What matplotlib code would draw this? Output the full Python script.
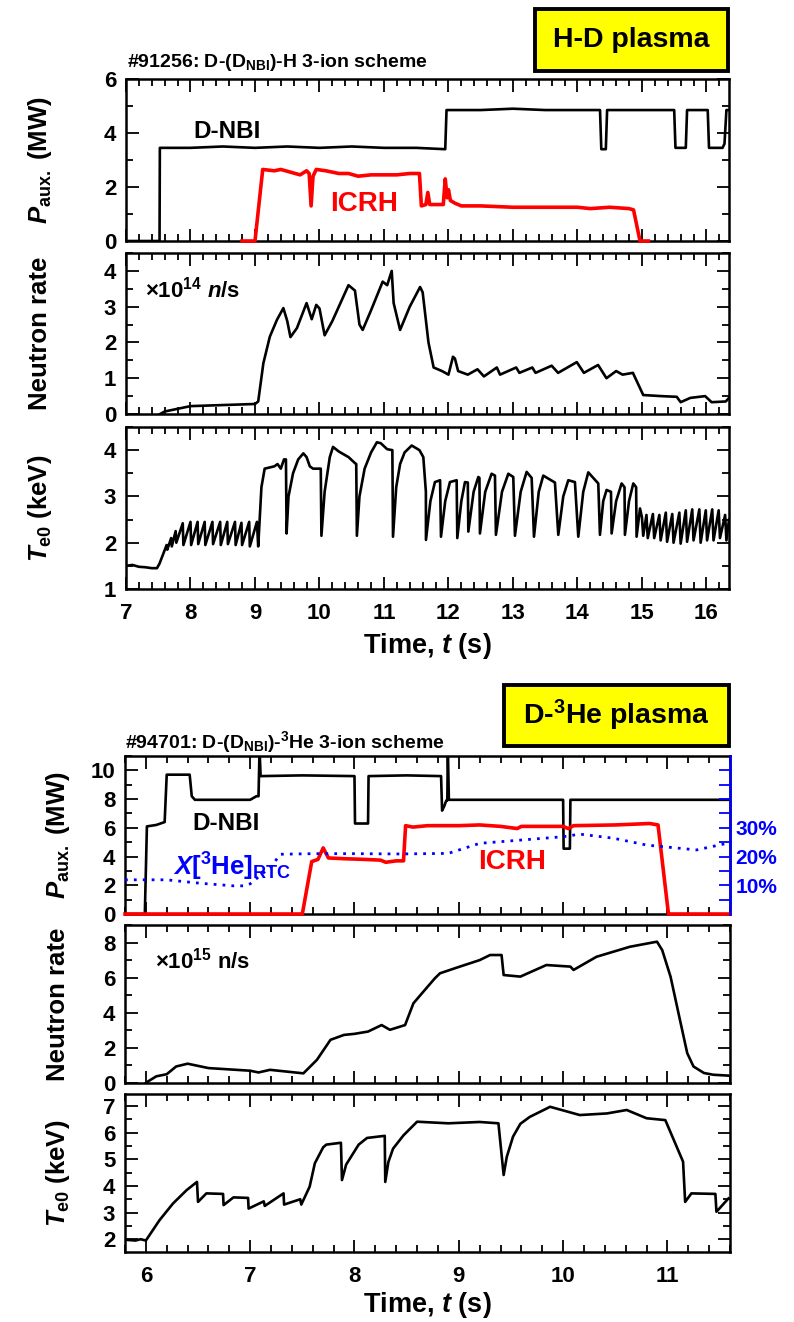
import numpy as np
import matplotlib
matplotlib.use("Agg")
import matplotlib.pyplot as plt
from matplotlib.patches import Rectangle
from matplotlib.ticker import MultipleLocator, FixedLocator, FixedFormatter

plt.rcParams['font.family'] = ['Liberation Sans', 'DejaVu Sans']
plt.rcParams['font.weight'] = 'bold'
plt.rcParams['mathtext.fontset'] = 'custom'
plt.rcParams['mathtext.rm'] = 'Liberation Sans:bold'
plt.rcParams['mathtext.it'] = 'Liberation Sans:italic:bold'
plt.rcParams['mathtext.bf'] = 'Liberation Sans:bold'

# ---------------- shot #91256 (H-D plasma) ----------------
nbi_hd = [(7.00, 0.0), (7.52, 0.0), (7.525, 3.45), (8.0, 3.45), (8.5, 3.5), (9.0, 3.45),
          (9.5, 3.5), (10.0, 3.45), (10.5, 3.5), (11.0, 3.45), (11.5, 3.45), (11.95, 3.4),
          (11.97, 4.85), (12.5, 4.85), (13.0, 4.9), (13.5, 4.85), (14.0, 4.85), (14.35, 4.85),
          (14.37, 3.4), (14.44, 3.4), (14.46, 4.85), (15.0, 4.85), (15.5, 4.85), (15.52, 3.45),
          (15.68, 3.45), (15.70, 4.85), (16.02, 4.85), (16.04, 3.45), (16.25, 3.45),
          (16.28, 3.6), (16.31, 4.85), (16.35, 4.85)]

icrh_hd = [(8.8, 0.0), (9.0, 0.0), (9.12, 2.65), (9.3, 2.6), (9.4, 2.65), (9.55, 2.55),
           (9.7, 2.45), (9.8, 2.6), (9.84, 2.5), (9.87, 1.3), (9.9, 2.4), (9.95, 2.65),
           (10.1, 2.6), (10.3, 2.5), (10.45, 2.5), (10.6, 2.4), (10.8, 2.45), (11.0, 2.45),
           (11.2, 2.45), (11.4, 2.5), (11.55, 2.5), (11.58, 1.3), (11.65, 1.35), (11.68, 1.8),
           (11.71, 1.35), (11.92, 1.35), (11.95, 2.3), (11.98, 1.6), (12.0, 1.9), (12.03, 1.5),
           (12.1, 1.4), (12.2, 1.3), (12.5, 1.3), (13.0, 1.25), (13.5, 1.25), (14.0, 1.25),
           (14.2, 1.2), (14.5, 1.25), (14.8, 1.2), (14.87, 1.15), (14.97, 0.0), (15.1, 0.0)]

neut_hd = [(7.53, 0.0), (7.6, 0.07), (7.84, 0.16), (8.0, 0.22), (8.5, 0.25), (9.0, 0.28),
           (9.05, 0.35), (9.13, 1.42), (9.23, 2.16), (9.34, 2.63), (9.44, 2.96), (9.5, 2.6),
           (9.55, 2.15), (9.65, 2.4), (9.8, 3.1), (9.88, 2.65), (9.95, 3.05), (10.0, 2.95),
           (10.08, 2.2), (10.2, 2.6), (10.35, 3.2), (10.45, 3.6), (10.55, 3.45), (10.62, 2.5),
           (10.67, 2.35), (10.8, 2.9), (10.98, 3.7), (11.05, 3.6), (11.12, 4.0), (11.15, 3.1),
           (11.25, 2.35), (11.4, 3.0), (11.56, 3.55), (11.6, 3.4), (11.69, 2.0), (11.77, 1.3),
           (11.9, 1.2), (12.0, 1.1), (12.07, 1.6), (12.1, 1.55), (12.15, 1.2), (12.3, 1.1),
           (12.45, 1.25), (12.55, 1.05), (12.75, 1.3), (12.8, 1.1), (13.05, 1.3), (13.1, 1.15),
           (13.3, 1.3), (13.35, 1.15), (13.6, 1.35), (13.7, 1.15), (13.99, 1.45), (14.1, 1.15),
           (14.32, 1.37), (14.45, 1.0), (14.6, 1.2), (14.7, 1.1), (14.86, 1.15), (15.02, 0.53),
           (15.3, 0.5), (15.54, 0.48), (15.6, 0.33), (15.75, 0.45), (15.98, 0.5), (16.08, 0.33),
           (16.3, 0.35), (16.35, 0.45)]

te_hd = [(7.00, 1.50), (7.10, 1.52), (7.20, 1.48), (7.30, 1.47), (7.40, 1.45), (7.48, 1.45),
         (7.52, 1.55), (7.58, 1.77), (7.63, 1.95), (7.64, 1.85), (7.70, 2.10), (7.71, 1.92),
         (7.77, 2.25), (7.78, 2.00),
         (7.88, 2.42), (7.89, 1.95), (8.00, 2.45), (8.01, 1.95), (8.11, 2.45), (8.12, 1.97),
         (8.22, 2.45), (8.23, 1.95), (8.34, 2.45), (8.35, 1.97), (8.46, 2.45), (8.47, 1.95),
         (8.57, 2.45), (8.58, 1.97), (8.69, 2.45), (8.70, 1.95), (8.79, 2.43), (8.80, 1.95),
         (8.91, 2.45), (8.92, 1.92), (9.03, 2.45), (9.05, 1.92),
         (9.10, 3.2), (9.15, 3.6), (9.30, 3.65), (9.35, 3.7), (9.40, 3.6), (9.45, 3.8),
         (9.48, 3.8), (9.49, 2.2), (9.52, 3.0), (9.59, 3.5), (9.67, 3.8), (9.75, 3.93),
         (9.80, 3.85), (9.85, 3.65), (9.90, 3.6), (10.02, 3.6), (10.03, 2.15), (10.08, 3.1),
         (10.16, 3.85), (10.21, 4.07), (10.30, 3.97), (10.45, 3.85), (10.55, 3.72),
         (10.57, 3.7), (10.58, 2.15), (10.62, 3.0), (10.70, 3.6), (10.80, 3.95), (10.89, 4.17),
         (10.95, 4.15), (11.05, 4.02), (11.13, 4.0), (11.14, 2.13), (11.19, 3.2), (11.25, 3.7),
         (11.32, 3.95), (11.43, 4.1), (11.55, 4.0), (11.61, 3.85), (11.65, 3.1),
         (11.651, 2.06), (11.72, 2.9), (11.79, 3.31), (11.87, 3.35), (11.884, 2.13),
         (11.95, 2.9), (12.023, 3.31), (12.127, 3.35), (12.137, 2.10), (12.20, 2.9),
         (12.256, 3.31), (12.30, 3.3), (12.308, 2.24), (12.39, 3.1), (12.463, 3.42),
         (12.48, 3.4), (12.488, 2.2), (12.57, 3.1), (12.669, 3.49), (12.721, 3.45),
         (12.736, 2.17), (12.83, 3.1), (12.928, 3.49), (13.005, 3.42), (13.031, 2.15),
         (13.12, 3.1), (13.212, 3.53), (13.29, 3.4), (13.326, 2.13), (13.40, 3.1),
         (13.47, 3.45), (13.651, 3.3), (13.703, 2.17), (13.78, 3.0), (13.858, 3.35),
         (13.961, 3.31), (14.013, 2.13), (14.09, 3.1), (14.168, 3.52), (14.323, 3.28),
         (14.349, 2.17), (14.40, 2.9), (14.452, 3.14), (14.52, 3.1), (14.53, 2.2),
         (14.60, 2.9), (14.685, 3.28), (14.73, 3.2), (14.736, 2.17), (14.80, 2.9),
         (14.866, 3.28), (14.91, 3.2), (14.917, 2.13),
         (14.97, 2.74), (15.00, 2.55), (15.02, 2.15), (15.07, 2.6), (15.09, 2.1),
         (15.17, 2.62), (15.19, 2.1), (15.27, 2.6), (15.29, 2.05), (15.37, 2.65),
         (15.39, 2.02), (15.47, 2.62), (15.49, 2.0), (15.58, 2.65), (15.60, 1.98),
         (15.68, 2.7), (15.70, 2.02), (15.78, 2.72), (15.80, 2.05), (15.89, 2.72),
         (15.91, 2.0), (15.99, 2.7), (16.01, 2.05), (16.09, 2.72), (16.11, 2.05),
         (16.19, 2.7), (16.21, 2.1), (16.29, 2.6), (16.31, 2.05), (16.35, 2.5)]

# ---------------- shot #94701 (D-3He plasma) ----------------
nbi_dhe = [(5.8, 0.0), (5.99, 0.0), (6.01, 6.1), (6.1, 6.2), (6.18, 6.4), (6.2, 9.7),
           (6.42, 9.7), (6.44, 8.2), (6.47, 7.95), (7.0, 7.95), (7.06, 8.2), (7.08, 8.2),
           (7.09, 11.5), (7.10, 9.6), (7.5, 9.65), (8.0, 9.6), (8.005, 6.3), (8.13, 6.3),
           (8.135, 9.6), (8.5, 9.65), (8.83, 9.6), (8.84, 7.2), (8.86, 7.5), (8.88, 7.9),
           (8.89, 7.9), (8.895, 11.5), (8.905, 7.95), (9.5, 7.95), (10.0, 7.95),
           (10.005, 4.55), (10.065, 4.55), (10.07, 7.95), (11.6, 7.95)]

icrh_dhe = [(5.8, 0.0), (7.5, 0.0), (7.59, 3.65), (7.65, 3.8), (7.7, 4.6), (7.75, 3.9),
            (7.9, 3.85), (8.1, 3.8), (8.25, 3.75), (8.3, 3.6), (8.4, 3.7), (8.47, 3.7),
            (8.49, 6.15), (8.56, 6.05), (8.7, 6.15), (9.0, 6.15), (9.2, 6.2), (9.4, 6.1),
            (9.56, 5.95), (9.6, 6.1), (10.0, 6.1), (10.05, 5.95), (10.1, 6.15), (10.5, 6.2),
            (10.83, 6.3), (10.91, 6.2), (11.01, 0.0), (11.6, 0.0)]

x3he_dhe = [(5.8, 11.9), (6.2, 11.9), (6.52, 10.7), (6.84, 9.8), (6.94, 9.8), (7.0, 10.5),
            (7.2, 16.5), (7.29, 20.8), (7.6, 21.0), (8.0, 21.0), (8.44, 20.9), (8.9, 21.1),
            (9.2, 24.6), (10.0, 26.9), (10.16, 27.8), (10.48, 26.4), (10.8, 24.0),
            (11.28, 22.3), (11.57, 24.6)]

neut_dhe = [(6.0, 0.0), (6.01, 0.05), (6.1, 0.38), (6.2, 0.5), (6.29, 0.94), (6.4, 1.1),
            (6.6, 0.85), (7.0, 0.7), (7.08, 0.6), (7.19, 0.75), (7.35, 0.65), (7.51, 0.55),
            (7.64, 1.32), (7.77, 2.46), (7.9, 2.74), (8.0, 2.8), (8.13, 2.93), (8.26, 3.3),
            (8.34, 3.03), (8.485, 3.3), (8.565, 4.54), (8.66, 5.2), (8.77, 5.96), (8.82, 6.25),
            (9.01, 6.63), (9.2, 7.0), (9.3, 7.29), (9.41, 7.29), (9.43, 6.15), (9.59, 6.06),
            (9.84, 6.72), (10.07, 6.63), (10.10, 6.44), (10.32, 7.19), (10.64, 7.76),
            (10.9, 8.05), (10.95, 7.57), (11.03, 6.06), (11.12, 3.6), (11.19, 1.7),
            (11.25, 0.94), (11.35, 0.57), (11.44, 0.47), (11.585, 0.42)]

te_dhe = [(5.8, 1.98), (5.9, 1.95), (5.95, 2.0), (6.0, 1.95), (6.13, 2.71), (6.26, 3.34),
          (6.39, 3.84), (6.49, 4.15), (6.5, 3.4), (6.58, 3.72), (6.74, 3.7), (6.745, 3.28),
          (6.84, 3.57), (6.98, 3.55), (6.985, 3.15), (7.13, 3.42), (7.14, 3.25), (7.32, 3.72),
          (7.325, 3.3), (7.48, 3.5), (7.49, 3.3), (7.57, 3.97), (7.62, 4.85), (7.7, 5.45),
          (7.73, 5.55), (7.87, 5.62), (7.88, 4.22), (7.92, 4.8), (7.96, 5.05), (8.04, 5.55),
          (8.12, 5.8), (8.29, 5.88), (8.295, 4.15), (8.325, 4.9), (8.37, 5.4), (8.47, 5.9),
          (8.6, 6.41), (8.9, 6.35), (9.2, 6.4), (9.38, 6.35), (9.43, 4.41), (9.46, 5.09),
          (9.52, 5.85), (9.59, 6.33), (9.68, 6.59), (9.84, 6.9), (9.875, 6.97), (10.16, 6.66),
          (10.42, 6.72), (10.61, 6.85), (10.8, 6.54), (10.98, 6.47), (11.15, 4.91),
          (11.17, 3.4), (11.23, 3.72), (11.46, 3.7), (11.47, 3.03), (11.585, 3.53)]

W, H = 794, 1322
fig = plt.figure(figsize=(W / 100, H / 100), dpi=100)


def axes_px(x0, y0, x1, y1):
    return fig.add_axes([x0 / W, 1 - y1 / H, (x1 - x0) / W, (y1 - y0) / H])


def style(ax, xmaj, ymaj, ymin, bottom_labels):
    ax.xaxis.set_major_locator(MultipleLocator(xmaj))
    ax.xaxis.set_minor_locator(MultipleLocator(0.2))
    ax.yaxis.set_major_locator(MultipleLocator(ymaj))
    ax.yaxis.set_minor_locator(MultipleLocator(ymin))
    ax.tick_params(which='both', direction='in', top=True, right=True, width=1.3,
                   labelsize=16, labelbottom=bottom_labels)
    ax.tick_params(which='major', length=9)
    ax.tick_params(which='minor', length=5)
    ax.tick_params(axis='y', pad=7)
    ax.tick_params(axis='x', pad=10)
    for s in ax.spines.values():
        s.set_linewidth(1.8)


def xy(series):
    a = np.array(series)
    return a[:, 0], a[:, 1]


def ylabel(x, y, s):
    fig.text(x / W, 1 - y / H, s, rotation=90, ha='center', va='center', fontsize=18.5)


def tag_box(x0, y0, x1, y1, s):
    fig.add_artist(Rectangle((x0 / W, 1 - y1 / H), (x1 - x0) / W, (y1 - y0) / H,
                             transform=fig.transFigure, facecolor='#ffff00',
                             edgecolor='black', linewidth=2.8))
    fig.text((x0 + x1) / 2 / W, 1 - (y0 + y1) / 2 / H, s, ha='center', va='center',
             fontsize=20.5)


BLK = dict(color='black', lw=1.9)
RED = dict(color='#ff0000', lw=2.6, zorder=3, clip_on=False)

# ---------- upper figure ----------
a1 = axes_px(126, 79, 729, 241)
a2 = axes_px(126, 253, 729, 414)
a3 = axes_px(126, 427, 729, 589)
for ax in (a1, a2, a3):
    ax.set_xlim(7, 16.35)
a1.set_ylim(0, 6)
a2.set_ylim(0, 4.5)
a3.set_ylim(1, 4.5)
style(a1, 1, 2, 1, False)
style(a2, 1, 1, 0.5, False)
style(a3, 1, 1, 0.5, True)

a1.plot(*xy(nbi_hd), **BLK)
a1.plot(*xy(icrh_hd), **RED)
a2.plot(*xy(neut_hd), **BLK)
a3.plot(*xy(te_hd), **BLK)

a1.text(8.57, 4.07, 'D-NBI', ha='center', va='center', fontsize=17.5)
a1.text(10.69, 1.37, 'ICRH', ha='center', va='center', fontsize=20, color='#ff0000')
a2.text(7.29, 3.47, '×10$^{\\mathbf{14}}$ $n$/s', ha='left', va='center', fontsize=16)

fig.text(127 / W, 1 - 67 / H, r'#91256: D-(D$_{\mathbf{NBI}}$)-H 3-ion scheme',
         ha='left', va='baseline', fontsize=14)
tag_box(535, 9, 728, 71, 'H-D plasma')
ylabel(40, 160, r'$P_{\mathbf{aux.}}$ (MW)')
ylabel(40, 333, 'Neutron rate')
ylabel(40, 508, r'$T_{\mathbf{e0}}$ (keV)')
fig.text(427 / W, 1 - 646 / H, r'Time, $t$ (s)', ha='center', va='center', fontsize=19.5)

# ---------- lower figure ----------
b1 = axes_px(125, 756, 730, 914)
b2 = axes_px(125, 925, 730, 1083)
b3 = axes_px(125, 1094, 730, 1252)
for ax in (b1, b2, b3):
    ax.set_xlim(5.8, 11.6)
b1.set_ylim(0, 11)
b2.set_ylim(0, 9)
b3.set_ylim(1.52, 7.45)
style(b1, 1, 2, 1, False)
style(b2, 1, 2, 1, False)
style(b3, 1, 1, 0.5, True)
b1.tick_params(which='both', right=False)

b1.plot(*xy(nbi_dhe), **BLK)
b1.plot(*xy(icrh_dhe), **RED)
b2.plot(*xy(neut_dhe), **BLK)
b3.plot(*xy(te_dhe), **BLK)

tw = b1.twinx()
tw.set_ylim(0, 55)
pct = list(range(5, 55, 5))
tw.yaxis.set_major_locator(FixedLocator(pct))
tw.yaxis.set_major_formatter(FixedFormatter([f'{v}%' if v in (10, 20, 30) else '' for v in pct]))
tw.tick_params(axis='y', direction='in', length=8, width=1.3, colors='#0000ff',
               labelsize=15, pad=4)
for name, s in tw.spines.items():
    s.set_visible(name == 'right')
tw.spines['right'].set_color('#0000ff')
tw.spines['right'].set_linewidth(1.8)
tw.plot(*xy(x3he_dhe), color='#0000ff', lw=2.0, linestyle=(0, (1, 2.2)))

b1.text(6.77, 6.33, 'D-NBI', ha='center', va='center', fontsize=17.5)
b1.text(9.51, 3.63, 'ICRH', ha='center', va='center', fontsize=20, color='#ff0000')
b1.text(6.26, 3.3, r'$X$[$^{\mathbf{3}}$He]$_{\mathbf{RTC}}$', ha='left', va='center',
        fontsize=18.5, color='#0000ff')
b2.text(6.09, 7.0, '×10$^{\\mathbf{15}}$ n/s', ha='left', va='center', fontsize=16)

fig.text(125 / W, 1 - 748 / H, r'#94701: D-(D$_{\mathbf{NBI}}$)-$^{\mathbf{3}}$He 3-ion scheme',
         ha='left', va='baseline', fontsize=14)
tag_box(504, 685, 729, 746, r'D-$^{\mathbf{3}}$He plasma')
ylabel(58, 835, r'$P_{\mathbf{aux.}}$ (MW)')
ylabel(58, 1004, 'Neutron rate')
ylabel(58, 1173, r'$T_{\mathbf{e0}}$ (keV)')
fig.text(427 / W, 1 - 1305 / H, r'Time, $t$ (s)', ha='center', va='center', fontsize=19.5)

fig.savefig('out.png', dpi=100)
